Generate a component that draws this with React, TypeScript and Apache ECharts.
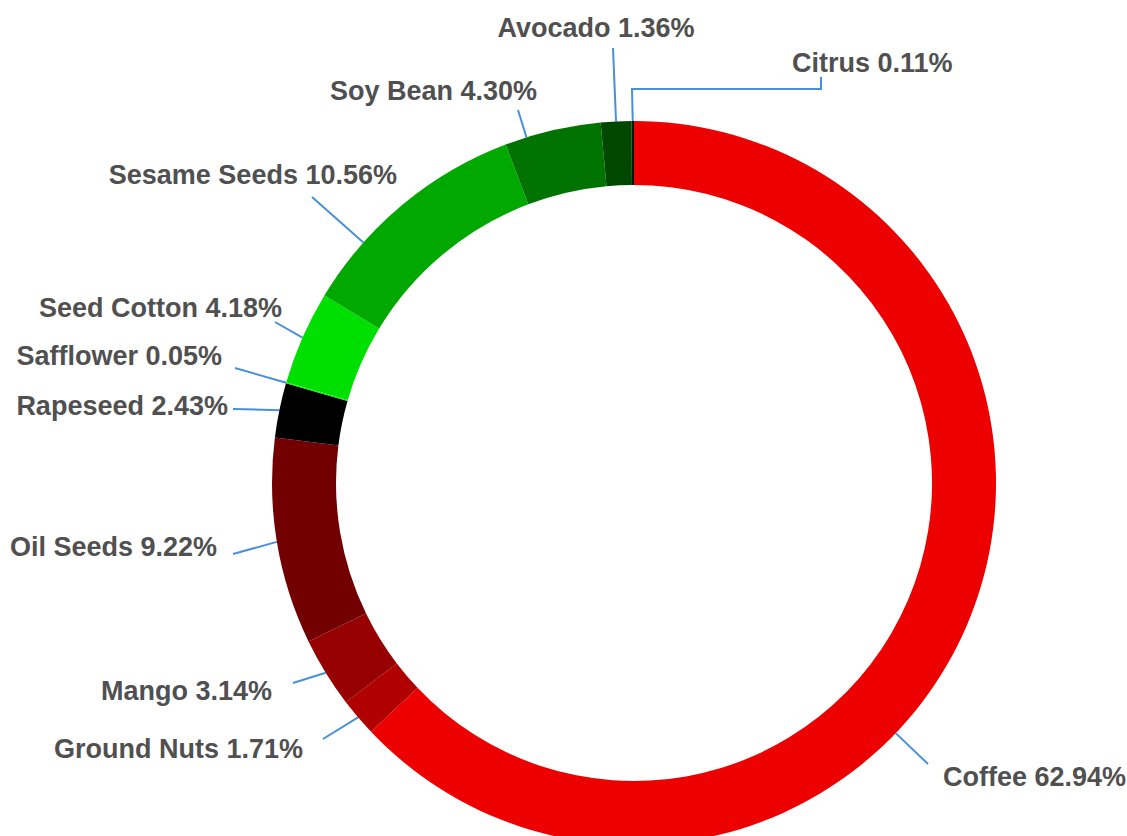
import React, { useEffect, useRef } from "react";
import * as echarts from "echarts";

// Data (percent shares), clockwise from 12 o'clock
const categories = [
  "Coffee",
  "Ground Nuts",
  "Mango",
  "Oil Seeds",
  "Rapeseed",
  "Safflower",
  "Seed Cotton",
  "Sesame Seeds",
  "Soy Bean",
  "Avocado",
  "Citrus",
];
const shares = [62.94, 1.71, 3.14, 9.22, 2.43, 0.05, 4.18, 10.56, 4.3, 1.36, 0.11];

// Styling
const colors = [
  "#ec0000",
  "#b00000",
  "#960000",
  "#720000",
  "#000000",
  "#00f000",
  "#00e000",
  "#00a800",
  "#007300",
  "#004800",
  "#001800",
];

// Layout: label anchor (text edge x, text middle y, alignment)
const labelPos: [number, number, string][] = [
  [943, 777, "left"],
  [303, 749, "right"],
  [272, 691, "right"],
  [217, 547, "right"],
  [228, 406, "right"],
  [222, 356, "right"],
  [282, 308, "right"],
  [397, 175, "right"],
  [537, 91, "right"],
  [596, 28, "center"],
  [792, 63, "left"],
];
// Layout: where each connector line ends near its label
const lineEnd: [number, number][] = [
  [928, 764],
  [323, 739],
  [293, 683],
  [233, 554],
  [233, 409],
  [235, 368],
  [275, 322],
  [312, 197],
  [518, 110],
  [613, 48],
  [821, 77],
];
// Layout: optional elbow points of connectors
const lineVia: [number, number][][] = [[], [], [], [], [], [], [], [], [], [], [[632, 89], [821, 89]]];
// Layout: connectors that start from the ring point nearest their end (instead of slice middle)
const projectStart = [true, false, false, false, false, false, false, true, true, false, false];

const CX = 634;
const CY = 483;
const R_IN = 298;
const R_OUT = 362;

export default function App() {
  const ref = useRef<HTMLDivElement>(null);
  useEffect(() => {
    if (!ref.current) return;
    const chart = echarts.init(ref.current, undefined, { renderer: "svg" });
    const total = shares.reduce((a, b) => a + b, 0);
    const midAngles: number[] = [];
    let acc = 0;
    shares.forEach((v) => {
      midAngles.push(((acc + v / 2) / total) * Math.PI * 2);
      acc += v;
    });
    chart.setOption({
      animation: false,
      backgroundColor: "#ffffff",
      series: [
        {
          type: "pie",
          center: [CX, CY],
          radius: [R_IN, R_OUT],
          startAngle: 90,
          clockwise: true,
          avoidLabelOverlap: false,
          itemStyle: { borderWidth: 0 },
          label: {
            show: true,
            position: "outside",
            formatter: (p: any) => `${p.name} ${Number(p.value).toFixed(2)}%`,
            color: "#505050",
            fontFamily: "Liberation Sans, Arial, sans-serif",
            fontWeight: "bold",
            fontSize: 27,
          },
          labelLine: {
            show: true,
            length: 10,
            length2: 0,
            smooth: false,
            lineStyle: { color: "#4a90d9", width: 2 },
          },
          labelLayout: (params: any) => {
            const i = params.dataIndex;
            const [x, y, align] = labelPos[i];
            const end = lineEnd[i];
            let start: number[];
            if (projectStart[i]) {
              const dx = end[0] - CX;
              const dy = end[1] - CY;
              const d = Math.sqrt(dx * dx + dy * dy);
              start = [CX + (dx / d) * R_OUT, CY + (dy / d) * R_OUT];
            } else {
              const a = midAngles[i];
              start = [CX + Math.sin(a) * R_OUT, CY - Math.cos(a) * R_OUT];
            }
            const pts = [start, ...lineVia[i].map((p) => [p[0], p[1]]), [end[0], end[1]]];
            return { x, y, align, verticalAlign: "middle", labelLinePoints: pts };
          },
          emphasis: { disabled: true },
          data: categories.map((name, i) => ({
            name,
            value: shares[i],
            itemStyle: { color: colors[i] },
          })),
        },
      ],
    });
    return () => chart.dispose();
  }, []);
  return (
    <div
      ref={ref}
      style={{ position: "fixed", left: 0, top: 0, width: 1127, height: 836 }}
    />
  );
}
